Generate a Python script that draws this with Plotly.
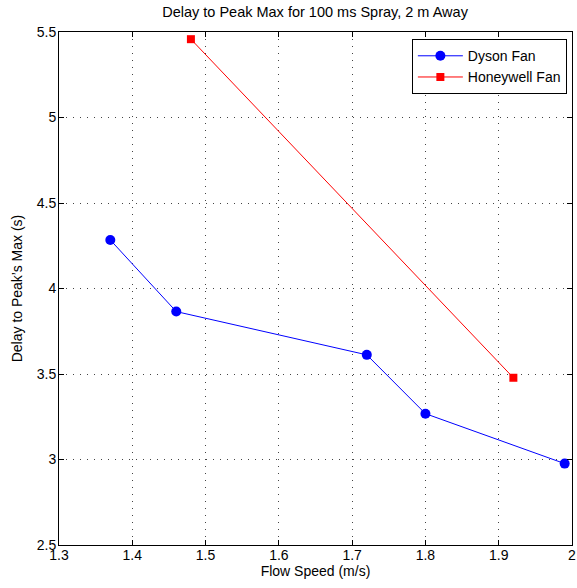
import plotly.graph_objects as go

dyson_x = [1.37, 1.46, 1.72, 1.80, 1.99]
dyson_y = [4.284, 3.865, 3.612, 3.268, 2.976]
honey_x = [1.48, 1.92]
honey_y = [5.458, 3.478]

x_ticks = [1.3, 1.4, 1.5, 1.6, 1.7, 1.8, 1.9, 2.0]
x_labels = ["1.3", "1.4", "1.5", "1.6", "1.7", "1.8", "1.9", "2"]
y_ticks = [2.5, 3, 3.5, 4, 4.5, 5, 5.5]
y_labels = ["2.5", "3", "3.5", "4", "4.5", "5", "5.5"]

font = "Liberation Sans, Arial, sans-serif"

fig = go.Figure()
fig.add_trace(go.Scatter(x=dyson_x, y=dyson_y, mode="lines+markers", name="Dyson Fan",
                         line=dict(color="#0000ff", width=1),
                         marker=dict(symbol="circle", size=10, color="#0000ff")))
fig.add_trace(go.Scatter(x=honey_x, y=honey_y, mode="lines+markers", name="Honeywell Fan",
                         line=dict(color="#ff0000", width=1),
                         marker=dict(symbol="square", size=8, color="#ff0000")))

axis_common = dict(showline=True, linecolor="black", linewidth=1, mirror="allticks",
                   ticks="inside", ticklen=5, tickcolor="black",
                   showgrid=True, gridcolor="#444444", griddash="1px,6px", gridwidth=1,
                   zeroline=False, automargin=False,
                   tickfont=dict(family=font, size=14, color="black"))

fig.update_xaxes(range=[1.3, 2.0], tickvals=x_ticks, ticktext=x_labels,
                 ticklabelstandoff=-3,
                 title=dict(text="Flow Speed (m/s)", font=dict(family=font, size=14, color="black"), standoff=2),
                 **axis_common)
fig.update_yaxes(range=[2.5, 5.5], tickvals=y_ticks, ticktext=y_labels,
                 ticklabelstandoff=-1,
                 title=dict(text="Delay to Peak’s Max (s)", font=dict(family=font, size=14, color="black"), standoff=10),
                 **axis_common)

fig.update_layout(
    width=577, height=588,
    margin=dict(l=59, r=5, t=32, b=43, autoexpand=False),
    paper_bgcolor="white", plot_bgcolor="white",
    title=dict(text="Delay to Peak Max for 100 ms Spray, 2 m Away", x=0.546, xanchor="center",
               y=0.979, yanchor="middle", font=dict(family=font, size=14.5, color="black")),
    legend=dict(x=0.99, y=0.986, xanchor="right", yanchor="top",
                bordercolor="black", borderwidth=1, bgcolor="white",
                font=dict(family=font, size=14, color="black"),
                itemwidth=45, tracegroupgap=0),
    showlegend=True,
)

fig.write_html("out.html", config={"displayModeBar": False},
               post_script="document.body.style.margin='0';document.body.style.overflow='hidden';")
